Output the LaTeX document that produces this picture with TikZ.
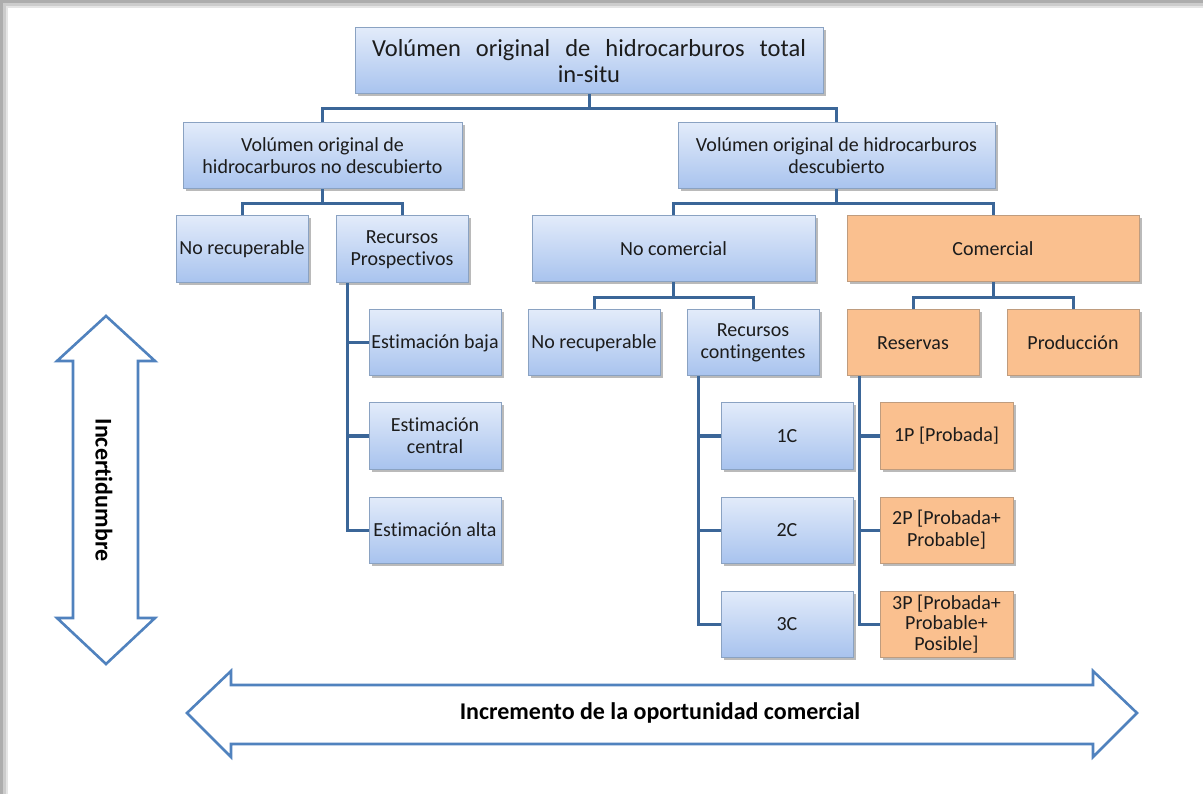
\documentclass[tikz,border=0pt]{standalone}
\usepackage{fontspec}
\setmainfont{Carlito}[Ligatures={NoCommon}]
\usetikzlibrary{shadows}
\definecolor{bxtop}{HTML}{E2EBFA}
\definecolor{bxbot}{HTML}{A8C3EE}
\definecolor{bxline}{HTML}{8AA2C2}
\definecolor{orfill}{HTML}{FAC08F}
\definecolor{orline}{HTML}{BF9C7E}
\definecolor{connc}{HTML}{3B6698}
\definecolor{arrc}{HTML}{5082BE}
\definecolor{txt}{HTML}{1C1C1C}
\tikzset{
  boxbase/.style={rectangle, draw, line width=1pt, align=center, text=txt,
     inner sep=2pt, font=\fontsize{20}{22}\selectfont,
     drop shadow={shadow xshift=2.5pt, shadow yshift=-2.5pt, opacity=0.45, fill=black!60}},
  bluebox/.style={boxbase, draw=bxline, top color=bxtop, bottom color=bxbot},
  orangebox/.style={boxbase, draw=orline, fill=orfill},
  conn/.style={draw=connc, line width=3pt},
  bigarrow/.style={draw=arrc, line width=2.6pt, fill=white, line join=miter},
  arrlabel/.style={text=black, font=\bfseries\fontsize{24}{27}\selectfont}
}
\begin{document}
\begin{tikzpicture}[x=1pt,y=-1pt]
\useasboundingbox (0,0) rectangle (1203,794);
% frame
\fill[black!32] (0,0) rectangle (1203,794);
\fill[black!20] (3,3) rectangle (1203,794);
\fill[black!10] (6,6) rectangle (1203,794);
\fill[white] (8,8) rectangle (1203,794);

% nodes
\node[bluebox, minimum width=468pt, minimum height=66pt, font=\fontsize{24.5}{26}\selectfont] (top) at (589,61)
  {\makebox[434pt][s]{Volúmen original de hidrocarburos total}\\in-situ};
\node[bluebox, minimum width=279pt, minimum height=66pt] (L1) at (322.5,156)
  {Volúmen original de\\hidrocarburos no descubierto};
\node[bluebox, minimum width=317pt, minimum height=66pt] (R1) at (836.5,156)
  {Volúmen original de hidrocarburos\\descubierto};
\node[bluebox, minimum width=132pt, minimum height=67pt] (NR1) at (242,249.5) {No recuperable};
\node[bluebox, minimum width=132pt, minimum height=67pt] (RP) at (402,249.5) {Recursos\\Prospectivos};
\node[bluebox, minimum width=132pt, minimum height=66pt] (EB) at (435,343) {Estimación baja};
\node[bluebox, minimum width=132pt, minimum height=66pt] (EC) at (435,436) {Estimación\\central};
\node[bluebox, minimum width=132pt, minimum height=66pt] (EA) at (435,530) {Estimación alta};
\node[bluebox, minimum width=283pt, minimum height=66pt] (NC) at (673.5,249) {No comercial};
\node[orangebox, minimum width=292pt, minimum height=66pt] (COM) at (993,249) {Comercial};
\node[bluebox, minimum width=132pt, minimum height=66pt] (NR2) at (594,343) {No recuperable};
\node[bluebox, minimum width=132pt, minimum height=66pt] (RC) at (753,343) {Recursos\\contingentes};
\node[orangebox, minimum width=132pt, minimum height=66pt] (RES) at (913,343) {Reservas};
\node[orangebox, minimum width=132pt, minimum height=66pt] (PROD) at (1073,343) {Producción};
\node[bluebox, minimum width=132pt, minimum height=66pt] (C1) at (787,436) {1C};
\node[bluebox, minimum width=132pt, minimum height=66pt] (C2) at (787,530) {2C};
\node[bluebox, minimum width=132pt, minimum height=66pt] (C3) at (787,624) {3C};
\node[orangebox, minimum width=133pt, minimum height=66pt] (P1) at (946.5,436) {1P [Probada]};
\node[orangebox, minimum width=133pt, minimum height=66pt] (P2) at (946.5,530) {2P [Probada+\\Probable]};
\node[orangebox, minimum width=133pt, minimum height=66pt, inner sep=0pt, font=\fontsize{20}{20.5}\selectfont] (P3) at (946.5,624) {3P [Probada+\\Probable+\\Posible]};

% connectors
\draw[conn] (top.south) -- ++(0,14) -| (L1.north);
\draw[conn] (top.south) -- ++(0,14) -| (R1.north);
\draw[conn] (L1.south) -- ++(0,14) -| (NR1.north);
\draw[conn] (L1.south) -- ++(0,14) -| (RP.north);
\draw[conn] (R1.south) -- ++(0,14) -| (NC.north);
\draw[conn] (R1.south) -- ++(0,14) -| (COM.north);
\draw[conn] (NC.south) -- ++(0,15) -| (NR2.north);
\draw[conn] (NC.south) -- ++(0,15) -| (RC.north);
\draw[conn] (COM.south) -- ++(0,15) -| (RES.north);
\draw[conn] (COM.south) -- ++(0,15) -| (PROD.north);
\draw[conn] ([xshift=12pt]RP.south west) |- (EB.west);
\draw[conn] ([xshift=12pt]RP.south west) |- (EC.west);
\draw[conn] ([xshift=12pt]RP.south west) |- (EA.west);
\draw[conn] ([xshift=12pt]RC.south west) |- (C1.west);
\draw[conn] ([xshift=12pt]RC.south west) |- (C2.west);
\draw[conn] ([xshift=12pt]RC.south west) |- (C3.west);
\draw[conn] ([xshift=13pt]RES.south west) |- (P1.west);
\draw[conn] ([xshift=13pt]RES.south west) |- (P2.west);
\draw[conn] ([xshift=13pt]RES.south west) |- (P3.west);

% vertical double arrow
\draw[bigarrow] (106,316) -- (155,361) -- (138,361) -- (138,618) -- (155,618)
  -- (106,664) -- (57,618) -- (73,618) -- (73,361) -- (57,361) -- cycle;
\node[arrlabel, rotate=-90] (incert) at (104,490) {Incertidumbre};

% horizontal double arrow
\draw[bigarrow] (187,713) -- (231,671) -- (231,685) -- (1093,685) -- (1093,671)
  -- (1137,713) -- (1093,757) -- (1093,744) -- (231,744) -- (231,757) -- cycle;
\node[arrlabel] (incr) at (660,713) {Incremento de la oportunidad comercial};
\end{tikzpicture}
\end{document}
